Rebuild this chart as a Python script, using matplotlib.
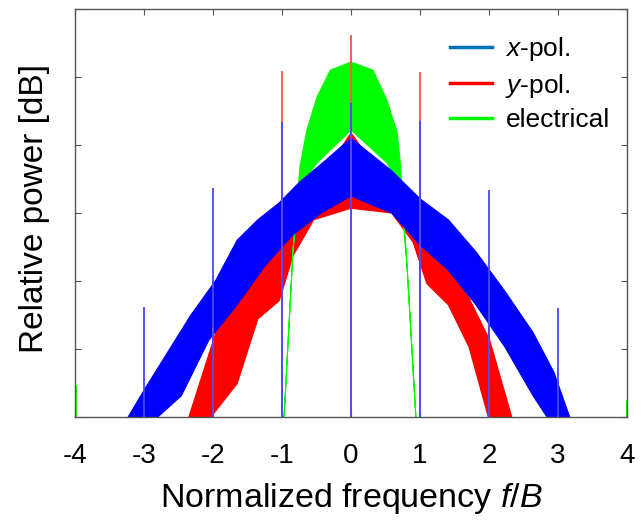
import matplotlib
matplotlib.use("Agg")
import matplotlib.pyplot as plt
from matplotlib.lines import Line2D
import numpy as np

plt.rcParams["font.family"] = "Liberation Sans"
plt.rcParams["mathtext.fontset"] = "custom"
plt.rcParams["mathtext.rm"] = "Liberation Sans"
plt.rcParams["mathtext.it"] = "Liberation Sans:italic"

# x-pol. (blue) band, upper and lower envelope, relative power in dB
xpol_hi_f = [-3.23, -2.99, -2.67, -2.32, -1.96, -1.65, -1.35, -1.04, -0.74, -0.43, 0.0,
             0.59, 1.00, 1.41, 1.81, 2.23, 2.64, 2.94, 3.17]
xpol_hi_p = [-60.0, -55.9, -50.7, -45.0, -39.9, -34.0, -31.0, -28.5, -25.4, -22.8, -19.0,
             -23.8, -27.9, -31.0, -35.7, -41.5, -47.6, -53.4, -60.0]
xpol_lo_f = [-2.80, -2.46, -2.06, -1.65, -1.25, -0.84, -0.43, 0.0, 0.59, 1.00, 1.41,
             1.81, 2.23, 2.64, 2.84]
xpol_lo_p = [-60.0, -56.9, -48.7, -43.5, -37.8, -33.2, -30.0, -27.5, -30.0, -34.7, -38.4,
             -43.5, -49.7, -56.9, -60.0]

# y-pol. (red) band
ypol_hi_f = [-2.35, -1.96, -1.65, -1.35, -1.04, -0.84, -0.54, 0.0, 0.59, 0.90, 1.10,
             1.41, 1.71, 2.01, 2.33]
ypol_hi_p = [-60.0, -47.6, -42.9, -37.8, -34.3, -30.6, -26.6, -18.2, -26.6, -32.6, -34.7,
             -37.8, -42.5, -48.7, -60.0]
ypol_lo_f = [-2.03, -1.65, -1.35, -1.04, -0.84, -0.54, 0.0, 0.59, 0.90, 1.10, 1.41,
             1.71, 1.99]
ypol_lo_p = [-60.0, -55.1, -45.6, -42.9, -36.3, -31.0, -29.3, -30.0, -34.3, -40.4, -43.5,
             -49.7, -60.0]

# electrical (green) band
elec_hi_f = [-0.97, -0.84, -0.74, -0.64, -0.49, -0.30, 0.0, 0.32, 0.52, 0.67, 0.71, 0.81, 0.94]
elec_hi_p = [-60.0, -35.4, -23.2, -17.8, -12.9, -9.0, -7.8, -9.0, -13.4, -18.2, -22.2, -37.4, -60.0]
elec_lo_f = [-0.97, -0.84, -0.74, -0.49, 0.0, 0.52, 0.71, 0.81, 0.94]
elec_lo_p = [-60.0, -35.4, -26.0, -22.6, -17.8, -22.6, -26.0, -37.4, -60.0]
elec_edge_f = [-4.0, 4.0]
elec_edge_p = [-55.3, -57.5]

# pilot tones
xpol_tone_f = [-3, -2, -1, 0, 1, 2, 3]
xpol_tone_p = [-43.8, -26.3, -16.6, -13.8, -16.5, -26.6, -43.9]
ypol_tone_f = [-2, -1, 0, 1, 2]
ypol_tone_p = [-46.8, -9.1, -3.8, -9.3, -46.8]

xticks = [-4, -3, -2, -1, 0, 1, 2, 3, 4]
floor = -60


def band(ax, hi_f, hi_p, lo_f, lo_p, color):
    """ fill the region between upper and lower envelope """
    f = np.concatenate([hi_f, lo_f[::-1]])
    p = np.concatenate([hi_p, lo_p[::-1]])
    ax.fill(f, p, color=color, lw=0.8, ec=color)


fig = plt.figure(figsize=(6.43, 5.23), dpi=100)
ax = fig.add_axes([75 / 643, 1 - 417 / 523, 552 / 643, 408 / 523])

band(ax, ypol_hi_f, ypol_hi_p, ypol_lo_f, ypol_lo_p, "#ff0000")
band(ax, elec_hi_f, elec_hi_p, elec_lo_f, elec_lo_p, "#00ff00")
band(ax, xpol_hi_f, xpol_hi_p, xpol_lo_f, xpol_lo_p, "#0000ff")
ax.vlines(elec_edge_f, floor, elec_edge_p, colors="#00ff00", lw=2)
ax.vlines(ypol_tone_f, floor, ypol_tone_p, colors="#ff5050", lw=1.3)
ax.vlines(xpol_tone_f, floor, xpol_tone_p, colors="#4848ff", lw=1.3)

ax.set_xlim(-4, 4)
ax.set_ylim(floor, 0)
ax.set_xticks(xticks)
ax.set_xticklabels([str(t) for t in xticks])
ax.set_yticks(np.arange(-60, 1, 10))
ax.set_yticklabels([])
ax.tick_params(direction="in", top=True, right=True, length=4, color="#555555",
               labelsize=20, pad=19)
for s in ax.spines.values():
    s.set_color("#555555")
    s.set_linewidth(1)

ax.set_xlabel("Normalized frequency $\\it{f/B}$", fontsize=24.5, labelpad=8)
ax.set_ylabel("Relative power [dB]", fontsize=24)
ax.yaxis.set_label_coords(-0.045, 0.51)

handles = [Line2D([], [], color="#0072bd", lw=2.5),
           Line2D([], [], color="#ff0000", lw=2.5),
           Line2D([], [], color="#00ff00", lw=2.5)]
ax.legend(handles, ["$\\it{x}$-pol.", "$\\it{y}$-pol.", "electrical"],
          loc="upper left", bbox_to_anchor=(450 / 643, 1 - 35 / 523),
          bbox_transform=fig.transFigure, frameon=False, fontsize=19,
          borderpad=0, borderaxespad=0, handlelength=1.6, handletextpad=0.5,
          labelspacing=0.33)

fig.savefig("out.png", dpi=100)
